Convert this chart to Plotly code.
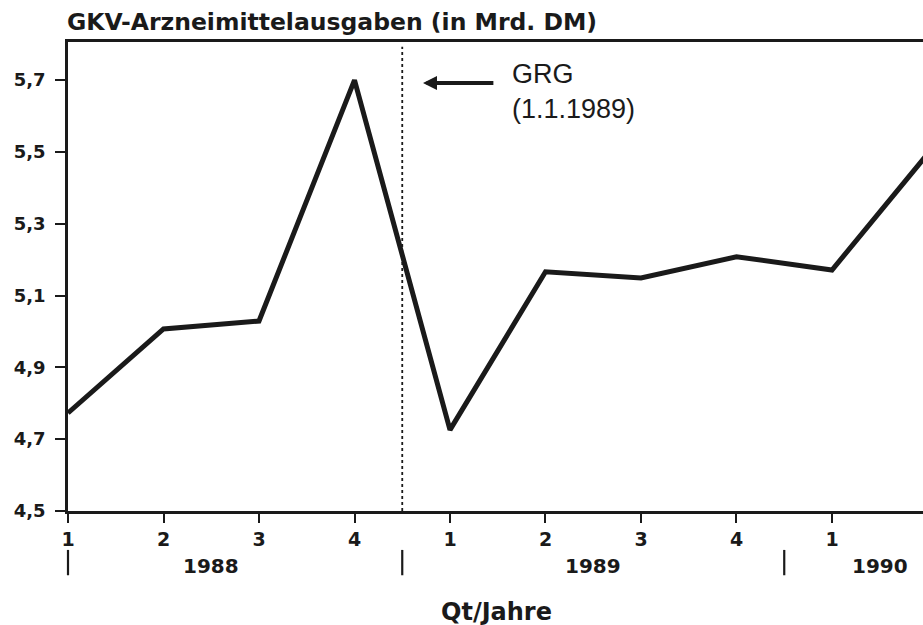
import plotly.graph_objects as go

# Data
quarters = ["1", "2", "3", "4", "1", "2", "3", "4", "1", "2"]
years = ["1988", "1989", "1990"]
values = [4.773, 5.007, 5.029, 5.70, 4.726, 5.166, 5.149, 5.208, 5.171, 5.494]
y_ticks = [4.5, 4.7, 4.9, 5.1, 5.3, 5.5, 5.7]
y_tick_labels = ["4,5", "4,7", "4,9", "5,1", "5,3", "5,5", "5,7"]
year_centers = [1.5, 5.5, 8.5]
year_bounds = [0, 3.5, 7.5]
grg_pos = 3.5

x_idx = list(range(len(values)))
x_range = [0, 8.953]
y_range = [4.5, 5.806]

BOLD = "DejaVu Sans"
REG = "Liberation Sans"
INK = "#1a1a1a"

def to_paper(v):
    return (v - x_range[0]) / (x_range[1] - x_range[0])

fig = go.Figure()
fig.add_trace(go.Scatter(
    x=x_idx, y=values, mode="lines",
    line=dict(color=INK, width=5),
    hoverinfo="skip", showlegend=False,
))

shapes = [dict(type="line", xref="x", yref="paper", x0=grg_pos, x1=grg_pos, y0=0, y1=0.99,
               line=dict(color=INK, width=1.8, dash="dot"))]
for b in year_bounds:
    shapes.append(dict(type="line", xref="paper", yref="paper",
                       x0=to_paper(b), x1=to_paper(b), y0=-0.083, y1=-0.137,
                       line=dict(color=INK, width=2.2)))

annotations = [dict(text="<b>GKV-Arzneimittelausgaben (in Mrd. DM)</b>", xref="paper", yref="paper",
                    x=0, xshift=-3, y=1.043, xanchor="left", yanchor="middle", showarrow=False,
                    font=dict(family=BOLD, size=23.5, color=INK))]
for c, yr in zip(year_centers, years):
    annotations.append(dict(text="<b>%s</b>" % yr, xref="x", yref="paper", x=c, y=-0.118,
                            xanchor="center", yanchor="middle", showarrow=False,
                            font=dict(family=BOLD, size=20, color=INK)))
annotations.append(dict(text="<b>Qt/Jahre</b>", xref="paper", yref="paper", x=to_paper(4.49), y=-0.215,
                        xanchor="center", yanchor="middle", showarrow=False,
                        font=dict(family=BOLD, size=24, color=INK)))
annotations.append(dict(text="GRG<br>(1.1.1989)", xref="x", yref="y", x=4.63, y=5.669,
                        xanchor="left", yanchor="middle", showarrow=False, align="left",
                        font=dict(family=REG, size=27, color=INK)))
annotations.append(dict(text="", xref="x", yref="y", x=3.717, y=5.6916, ax=4.47, ay=5.6916,
                        axref="x", ayref="y", showarrow=True, arrowhead=2, arrowsize=0.7,
                        arrowwidth=4, arrowcolor=INK))

fig.update_layout(
    width=923, height=625,
    margin=dict(l=68, r=0, t=42, b=114),
    paper_bgcolor="white", plot_bgcolor="white",
    shapes=shapes, annotations=annotations,
    xaxis=dict(range=x_range, tickvals=x_idx, ticktext=["<b>%s</b>" % q for q in quarters],
               ticks="outside", ticklen=9, tickwidth=2, tickcolor=INK,
               showline=True, linewidth=2.5, linecolor=INK, mirror=True,
               showgrid=False, zeroline=False,
               tickfont=dict(family=BOLD, size=19, color=INK)),
    yaxis=dict(range=y_range, tickvals=y_ticks, ticktext=["<b>%s</b>" % t for t in y_tick_labels],
               ticks="outside", ticklen=10, tickwidth=2, tickcolor=INK,
               ticklabelstandoff=6,
               showline=True, linewidth=2.5, linecolor=INK,
               showgrid=False, zeroline=False,
               tickfont=dict(family=BOLD, size=18, color=INK)),
)

fig.write_html(
    "out.html",
    config={"displayModeBar": False},
    post_script="document.body.style.margin='0';document.body.style.overflow='hidden';",
)
